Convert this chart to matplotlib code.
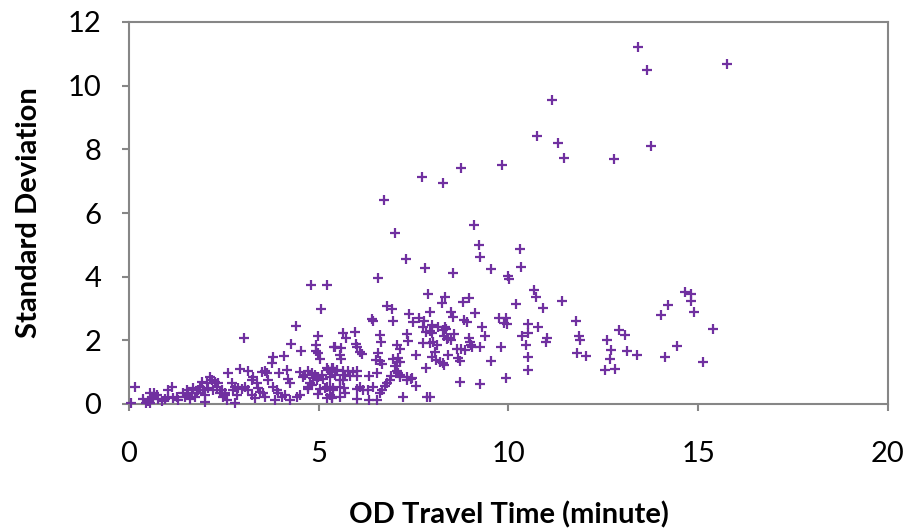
import matplotlib
matplotlib.use("Agg")
import matplotlib.pyplot as plt

# OD travel time (minutes) and the standard deviation of travel time per OD pair
travel_time = [
    13.41, 15.76, 13.65, 11.15, 10.75, 11.30, 13.75, 11.46, 12.78, 9.84, 8.75, 7.72, 8.28, 6.71,
    7.00, 9.09, 9.22, 9.24, 10.30, 10.32, 7.30, 7.80, 8.55, 9.53, 9.99, 10.02, 6.56, 4.79, 5.21,
    7.87, 8.32, 8.96, 10.68, 10.72, 10.21, 10.90, 11.42, 8.25, 8.79, 7.93, 8.48, 8.55, 9.13, 8.84,
    8.90, 9.76, 9.93, 9.88, 9.97, 9.29, 9.38, 9.25, 9.79, 9.53, 9.25, 9.93, 10.52, 10.52, 10.35,
    10.46, 10.79, 11.01, 10.98, 10.52, 10.52, 11.77, 11.86, 11.88, 11.81, 12.04, 12.59, 12.69,
    12.67, 12.54, 12.81, 12.92, 13.07, 13.11, 13.38, 14.03, 14.21, 14.12, 14.43, 14.65, 14.80,
    14.80, 14.90, 15.13, 15.40, 8.72, 8.14, 8.32, 8.28, 8.35, 7.93, 8.02, 8.11, 8.31, 8.41, 8.48,
    8.37, 8.57, 8.97, 8.99, 9.02, 9.05, 8.63, 8.74, 8.85, 8.06, 8.41, 7.98, 8.09, 8.19, 8.30, 8.27,
    8.68, 8.72, 7.93, 6.81, 6.93, 7.39, 7.48, 7.65, 6.40, 6.42, 6.95, 7.74, 7.83, 5.65, 5.72, 5.96,
    6.61, 6.63, 7.32, 7.34, 7.75, 5.40, 5.58, 5.98, 6.00, 6.09, 6.15, 5.56, 5.59, 7.05, 7.14, 6.57,
    7.56, 6.95, 7.10, 7.05, 7.14, 7.02, 6.51, 6.61, 6.67, 5.37, 7.82, 5.65, 5.78, 5.91, 6.00, 5.69,
    5.82, 6.00, 5.65, 5.56, 5.30, 6.33, 6.53, 6.90, 7.14, 7.33, 7.43, 6.88, 6.81, 6.75, 6.66, 6.61,
    6.42, 7.56, 5.37, 5.67, 6.00, 6.09, 6.17, 6.29, 5.56, 6.00, 6.33, 6.53, 7.21, 7.84, 5.30, 5.05,
    4.39, 3.04, 4.99, 4.26, 4.93, 4.92, 4.97, 5.03, 4.52, 5.43, 3.79, 3.76, 4.09, 2.62, 2.92, 3.14,
    3.50, 3.58, 3.63, 3.26, 3.23, 3.94, 4.16, 3.67, 4.51, 4.64, 4.72, 4.81, 4.86, 4.90, 4.95, 4.99,
    5.08, 5.21, 5.34, 4.20, 4.24, 4.71, 5.03, 5.21, 2.71, 2.79, 2.88, 2.97, 3.06, 3.14, 2.53, 2.84,
    2.79, 3.36, 3.41, 3.45, 3.54, 3.58, 3.23, 3.32, 3.80, 3.89, 3.93, 4.02, 4.11, 3.85, 4.24, 4.42,
    4.51, 5.34, 5.21, 0.16, 0.05, 0.38, 0.51, 0.55, 0.60, 0.64, 0.67, 0.73, 0.55, 0.44, 0.77, 0.86,
    0.95, 1.02, 1.04, 1.14, 1.17, 1.26, 1.30, 1.43, 1.48, 1.52, 1.56, 1.61, 1.65, 1.69, 1.74, 1.78,
    1.83, 1.87, 1.92, 1.96, 2.00, 2.05, 2.09, 2.13, 2.18, 2.22, 2.27, 2.31, 2.35, 2.40, 2.44, 2.48,
    2.53, 2.57, 2.75, 2.00, 4.59, 4.77, 4.82, 4.72, 4.99, 5.10, 5.25, 5.34, 5.47, 5.43, 5.30, 5.16,
    5.34, 5.56, 5.69, 5.38, 7.05, 7.09, 7.14, 7.32, 7.45, 7.77, 7.98, 7.93, 7.98,
]
std_dev = [
    11.22, 10.68, 10.49, 9.55, 8.42, 8.20, 8.11, 7.73, 7.70, 7.52, 7.41, 7.14, 6.95, 6.41,
    5.37, 5.62, 5.00, 4.61, 4.86, 4.31, 4.55, 4.26, 4.12, 4.23, 4.01, 3.92, 3.97, 3.74, 3.74,
    3.45, 3.36, 3.33, 3.58, 3.35, 3.13, 3.03, 3.24, 3.16, 3.20, 2.90, 2.88, 2.74, 2.85, 2.64,
    2.59, 2.69, 2.69, 2.54, 2.51, 2.41, 2.14, 1.80, 1.78, 1.35, 0.62, 0.81, 2.51, 2.22, 2.14,
    1.85, 2.43, 2.06, 1.96, 1.47, 1.06, 2.60, 2.14, 2.01, 1.59, 1.52, 2.01, 1.70,
    1.40, 1.06, 1.10, 2.32, 2.16, 1.67, 1.55, 2.81, 3.10, 1.49, 1.82, 3.52, 3.45,
    3.24, 2.90, 1.33, 2.37, 0.68, 2.43, 2.41, 2.32, 2.37, 1.91, 1.96, 1.85, 2.14, 2.06, 2.01,
    2.03, 2.20, 2.06, 1.96, 1.85, 1.80, 1.72, 1.72, 1.70, 1.64, 1.54, 1.47, 1.38, 1.31, 1.23, 1.28,
    1.44, 1.36, 0.23, 3.08, 2.98, 2.83, 2.58, 2.71, 2.67, 2.62, 2.62, 2.43, 2.25, 2.22, 2.06, 2.27,
    2.17, 1.94, 2.19, 1.99, 1.91, 1.80, 1.77, 1.88, 1.78, 1.64, 1.57, 1.54, 1.40, 1.85, 1.72, 1.59,
    1.54, 1.41, 1.44, 1.33, 1.33, 1.20, 1.38, 1.35, 1.26, 1.14, 1.12, 1.04, 1.04, 1.01, 1.04, 0.91,
    0.88, 0.88, 0.75, 0.75, 0.84, 0.88, 0.98, 0.88, 0.84, 0.86, 0.78, 0.75, 0.65, 0.57, 0.44, 0.34,
    0.54, 0.57, 0.49, 0.49, 0.47, 0.52, 0.44, 0.44, 0.23, 0.15, 0.13, 0.13, 0.23, 0.23, 0.28, 2.98,
    2.46, 2.06, 2.15, 1.88, 1.85, 1.67, 1.61, 1.40, 1.67, 1.80, 1.47, 1.28, 1.52, 0.96, 1.09, 1.05,
    1.01, 1.05, 0.98, 0.86, 0.75, 0.96, 1.07, 0.75, 1.01, 0.91, 1.05, 0.96, 0.81, 0.91, 0.75, 0.84,
    0.91, 1.12, 1.12, 0.78, 0.65, 0.46, 0.46, 0.52, 0.67, 0.54, 0.49, 0.46, 0.52, 0.44, 0.28, 0.28,
    0.02, 0.65, 0.49, 0.39, 0.34, 0.23, 0.28, 0.18, 0.52, 0.44, 0.34, 0.23, 0.28, 0.13, 0.13, 0.21,
    0.28, 0.18, 0.18, 0.52, 0.04, 0.15, 0.10, 0.34, 0.23, 0.15, 0.34, 0.28, 0.02, 0.04, 0.15, 0.10,
    0.15, 0.21, 0.44, 0.54, 0.18, 0.23, 0.13, 0.34, 0.21, 0.44, 0.28, 0.15, 0.36, 0.49, 0.23, 0.34,
    0.44, 0.54, 0.70, 0.44, 0.28, 0.65, 0.49, 0.86, 0.75, 0.44, 0.70, 0.54, 0.65, 0.34, 0.44, 0.23,
    0.34, 0.13, 0.44, 0.07, 0.86, 0.66, 0.60, 0.54, 0.31, 0.78, 1.07, 1.01, 1.07, 0.91, 0.54, 0.49,
    0.23, 0.54, 0.34, 0.44, 1.05, 0.96, 0.91, 0.75, 0.81, 2.62, 2.48, 2.30, 2.22,
]

x_ticks = [0, 5, 10, 15, 20]
y_ticks = [0, 2, 4, 6, 8, 10, 12]
x_title = "OD Travel Time (minute)"
y_title = "Standard Deviation"

plt.rcParams["font.family"] = ["Lato", "DejaVu Sans"]

axis_grey = "#868686"
marker_purple = "#7030A0"

fig = plt.figure(figsize=(9.06, 5.28), dpi=100)
ax = fig.add_axes([129 / 906, 124 / 528, 759 / 906, 382 / 528])

ax.scatter(travel_time, std_dev, marker="+", s=48, linewidths=1.6,
           color=marker_purple, clip_on=False, zorder=3)

ax.set_xlim(0, 20)
ax.set_ylim(0, 12)
ax.set_xticks(x_ticks)
ax.set_yticks(y_ticks)

for side in ("left", "right", "top", "bottom"):
    ax.spines[side].set_color(axis_grey)
    ax.spines[side].set_linewidth(1.5)

ax.tick_params(axis="both", direction="out", length=5, width=1.5,
               color=axis_grey, labelsize=21, labelcolor="black")
ax.tick_params(axis="x", pad=22)
ax.tick_params(axis="y", pad=15)

ax.set_xlabel(x_title, fontsize=21, fontweight="bold", labelpad=24)
ax.set_ylabel(y_title, fontsize=21, fontweight="bold", labelpad=18)

fig.savefig("out.png", dpi=100)
